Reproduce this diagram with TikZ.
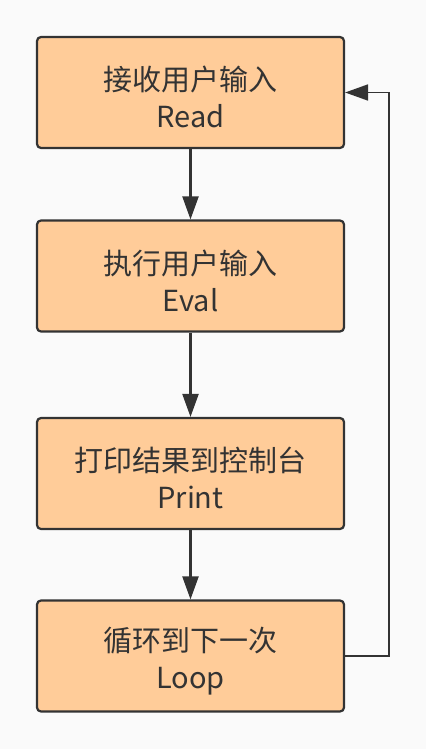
\documentclass[tikz,border=0pt]{standalone}
\usepackage{fontspec}
\setmainfont{Noto Sans CJK SC}
\usetikzlibrary{arrows.meta}
\definecolor{boxfill}{HTML}{FFCC99}
\definecolor{ink}{HTML}{333333}
\definecolor{paper}{HTML}{FAFAFA}
\newcommand{\toprow}[1]{\raisebox{0pt}[34pt]{#1}}

\begin{document}
\begin{tikzpicture}[x=1pt,y=-1pt]
\tikzstyle{stagebox}=[draw=ink, line width=2.2pt, fill=boxfill, rounded corners=4pt,
  minimum width=307pt, minimum height=111pt, align=center, text=ink,
  font=\fontsize{29pt}{37pt}\selectfont]
\tikzstyle{flow}=[draw=ink, line width=2.2pt, -{Triangle[length=23pt,width=16pt]}]
\fill [paper] (0,0) rectangle (426,749);
\node [stagebox] (read) at (190.5,92.5) {\toprow{接收用户输入}\\Read};
\node [stagebox] (eval) at (190.5,276) {\toprow{执行用户输入}\\Eval};
\node [stagebox] (print) at (190.5,473.5) {\toprow{打印结果到控制台}\\Print};
\node [stagebox] (loop) at (190.5,656) {\toprow{循环到下一次}\\Loop};
\draw [flow] (read) -- (eval);
\draw [flow] (eval) -- (print);
\draw [flow] (print) -- (loop);
\draw [flow, line width=1.8pt] (loop.east) -- ++(44,0) |- (read.east);
\end{tikzpicture}
\end{document}
